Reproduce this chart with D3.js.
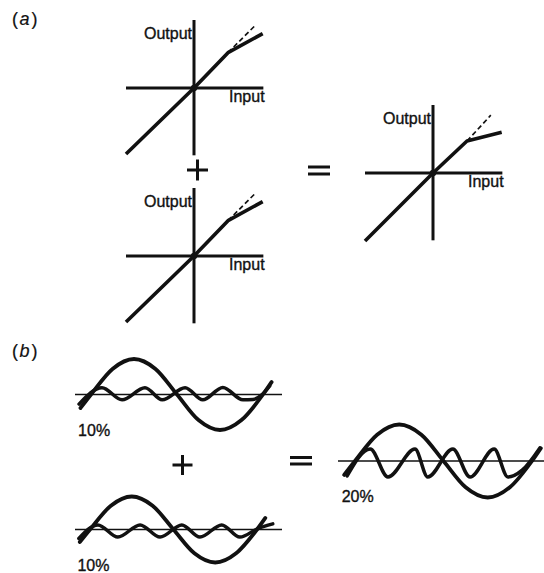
<!DOCTYPE html>
<html>
<head>
<meta charset="utf-8">
<script src="https://cdn.jsdelivr.net/npm/d3@7"></script>
<style>
  html, body { margin: 0; padding: 0; background: #fff; }
  svg { display: block; }
  text { font-family: "Liberation Sans", Arial, Helvetica, sans-serif; fill: #111; stroke: #111; stroke-width: 0.35px; }
</style>
</head>
<body>
<svg id="chart" width="544" height="573"></svg>
<script>
// ---------------- DATA ----------------
// (a) transfer characteristics: input -> output (normalised units)
const transferInput   = [-1, 0, 0.5, 1.01];
const outputStage     = [-0.97, 0, 0.52, 0.8];    // one compressing stage
const outputCombined  = [-1, 0, 0.47, 0.6];       // two stages in cascade
const linearInputStage    = [0.5, 0.89];          // dashed ideal (linear) continuation
const linearOutputStage   = [0.52, 0.91];
const linearInputCombined = [0.5, 0.85];
const linearOutputCombined= [0.47, 0.85];
const axisLabels = ["Output", "Input"];

// (b) waveforms: phase of fundamental (degrees) and relative amplitude
const fundamentalPhase = [-22, 0, 45, 90, 135, 180, 225, 270, 315, 360, 378];
const fundamentalValue = [-0.38, 0, 0.72, 1, 0.72, 0, -0.72, -1, -0.72, 0, 0.35];

const harmonicPhase1 = [-25, 23, 65, 113, 149, 197, 234, 276, 318, 339, 358, 374];
const harmonicValue1 = [-0.27, 0.19, -0.15, 0.19, -0.15, 0.19, -0.15, 0.2, -0.15, -0.14, 0.0, 0.24];

const harmonicPhase2 = [-24, 17, 60, 108, 151, 198, 237, 284, 323, 362, 394];
const harmonicValue2 = [-0.27, 0.14, -0.23, 0.14, -0.23, 0.14, -0.23, 0.14, -0.23, 0.03, 0.17];

const harmonicPhase3 = [-16, 31, 67, 122, 148, 199, 234, 283, 311, 340, 376];
const harmonicValue3 = [-0.41, 0.33, -0.44, 0.33, -0.44, 0.33, -0.44, 0.33, -0.44, -0.25, 0.36];

const distortionLabels = ["10%", "10%", "20%"];
const panelLabels = ["a", "b"];

// ---------------- DRAW ----------------
const svg = d3.select("#chart");
svg.append("rect").attr("width", 544).attr("height", 573).attr("fill", "#fff");
const ink = "#111";

function panelLabel(letter, x, y) {
  const t = svg.append("text").attr("x", x).attr("y", y).attr("font-size", 18)
    .style("stroke-width", "0.2px");
  t.append("tspan").text("(");
  t.append("tspan").attr("font-style", "italic").attr("dx", 1.5).text(letter);
  t.append("tspan").attr("dx", 2).text(")");
}
panelLabel(panelLabels[0], 12, 25);
panelLabel(panelLabels[1], 12, 357);

function transferGraph(ox, oy, outVals, linIn, linOut) {
  const x = d3.scaleLinear().domain([-1, 1]).range([ox - 68, ox + 68]);
  const y = d3.scaleLinear().domain([-1, 1]).range([oy + 68, oy - 68]);
  const g = svg.append("g");
  // axes
  g.append("line").attr("x1", x(-1)).attr("x2", x(1.02)).attr("y1", y(0)).attr("y2", y(0))
    .attr("stroke", ink).attr("stroke-width", 3);
  g.append("line").attr("x1", x(0)).attr("x2", x(0)).attr("y1", y(1)).attr("y2", y(-0.99))
    .attr("stroke", ink).attr("stroke-width", 3);
  // dashed linear continuation
  g.append("line").attr("x1", x(linIn[0])).attr("y1", y(linOut[0]))
    .attr("x2", x(linIn[1])).attr("y2", y(linOut[1]))
    .attr("stroke", ink).attr("stroke-width", 1.7).attr("stroke-dasharray", "5,3");
  // transfer curve
  const pts = transferInput.map((v, i) => [v, outVals[i]]);
  g.append("path").datum(pts)
    .attr("d", d3.line().x(d => x(d[0])).y(d => y(d[1])))
    .attr("fill", "none").attr("stroke", ink).attr("stroke-width", 3.6)
    .attr("stroke-linejoin", "round");
  g.append("circle").attr("cx", x(0)).attr("cy", y(0)).attr("r", 3.2).attr("fill", ink);
  // labels
  g.append("text").attr("x", x(0) - 2).attr("y", oy - 49).attr("text-anchor", "end")
    .attr("font-size", 16).text(axisLabels[0]);
  g.append("text").attr("x", x(0) + 35).attr("y", oy + 14)
    .attr("font-size", 16).text(axisLabels[1]);
}
transferGraph(194, 88, outputStage, linearInputStage, linearOutputStage);
transferGraph(194, 256, outputStage, linearInputStage, linearOutputStage);
transferGraph(433, 173, outputCombined, linearInputCombined, linearOutputCombined);

function plus(cx, cy, arm) {
  svg.append("line").attr("x1", cx - arm).attr("x2", cx + arm).attr("y1", cy).attr("y2", cy)
    .attr("stroke", ink).attr("stroke-width", 3);
  svg.append("line").attr("x1", cx).attr("x2", cx).attr("y1", cy - arm).attr("y2", cy + arm)
    .attr("stroke", ink).attr("stroke-width", 3);
}
function equals(x1, x2, y1, y2) {
  [y1, y2].forEach(yy => svg.append("line").attr("x1", x1).attr("x2", x2)
    .attr("y1", yy).attr("y2", yy).attr("stroke", ink).attr("stroke-width", 3));
}
plus(197.5, 170, 10.5);
equals(308, 330, 167, 174);
plus(182.5, 465, 10);
equals(290, 312, 457.5, 464);

function wavePanel(x0, period, zeroY, amp, lineX1, lineX2, hPhase, hVal, label) {
  const x = d3.scaleLinear().domain([0, 360]).range([x0, x0 + period]);
  const y = d3.scaleLinear().domain([-1, 1]).range([zeroY + amp, zeroY - amp]);
  const g = svg.append("g");
  g.append("line").attr("x1", lineX1).attr("x2", lineX2).attr("y1", y(0)).attr("y2", y(0))
    .attr("stroke", ink).attr("stroke-width", 1.7);
  const line = d3.line().x(d => x(d[0])).y(d => y(d[1])).curve(d3.curveMonotoneX);
  g.append("path").datum(fundamentalPhase.map((p, i) => [p, fundamentalValue[i]]))
    .attr("d", line).attr("fill", "none").attr("stroke", ink).attr("stroke-width", 3.8)
    .attr("stroke-linecap", "round");
  g.append("path").datum(hPhase.map((p, i) => [p, hVal[i]]))
    .attr("d", line).attr("fill", "none").attr("stroke", ink).attr("stroke-width", 3.5)
    .attr("stroke-linecap", "round");
  g.append("text").attr("x", x(-27)).attr("y", zeroY + 41).attr("font-size", 16).text(label);
}
wavePanel(91, 172, 394.5, 35.5, 75, 282, harmonicPhase1, harmonicValue1, distortionLabels[0]);
wavePanel(90, 167, 529.5, 33, 75, 282, harmonicPhase2, harmonicValue2, distortionLabels[1]);
wavePanel(355, 177, 461, 36.5, 338, 544, harmonicPhase3, harmonicValue3, distortionLabels[2]);
</script>
</body>
</html>
